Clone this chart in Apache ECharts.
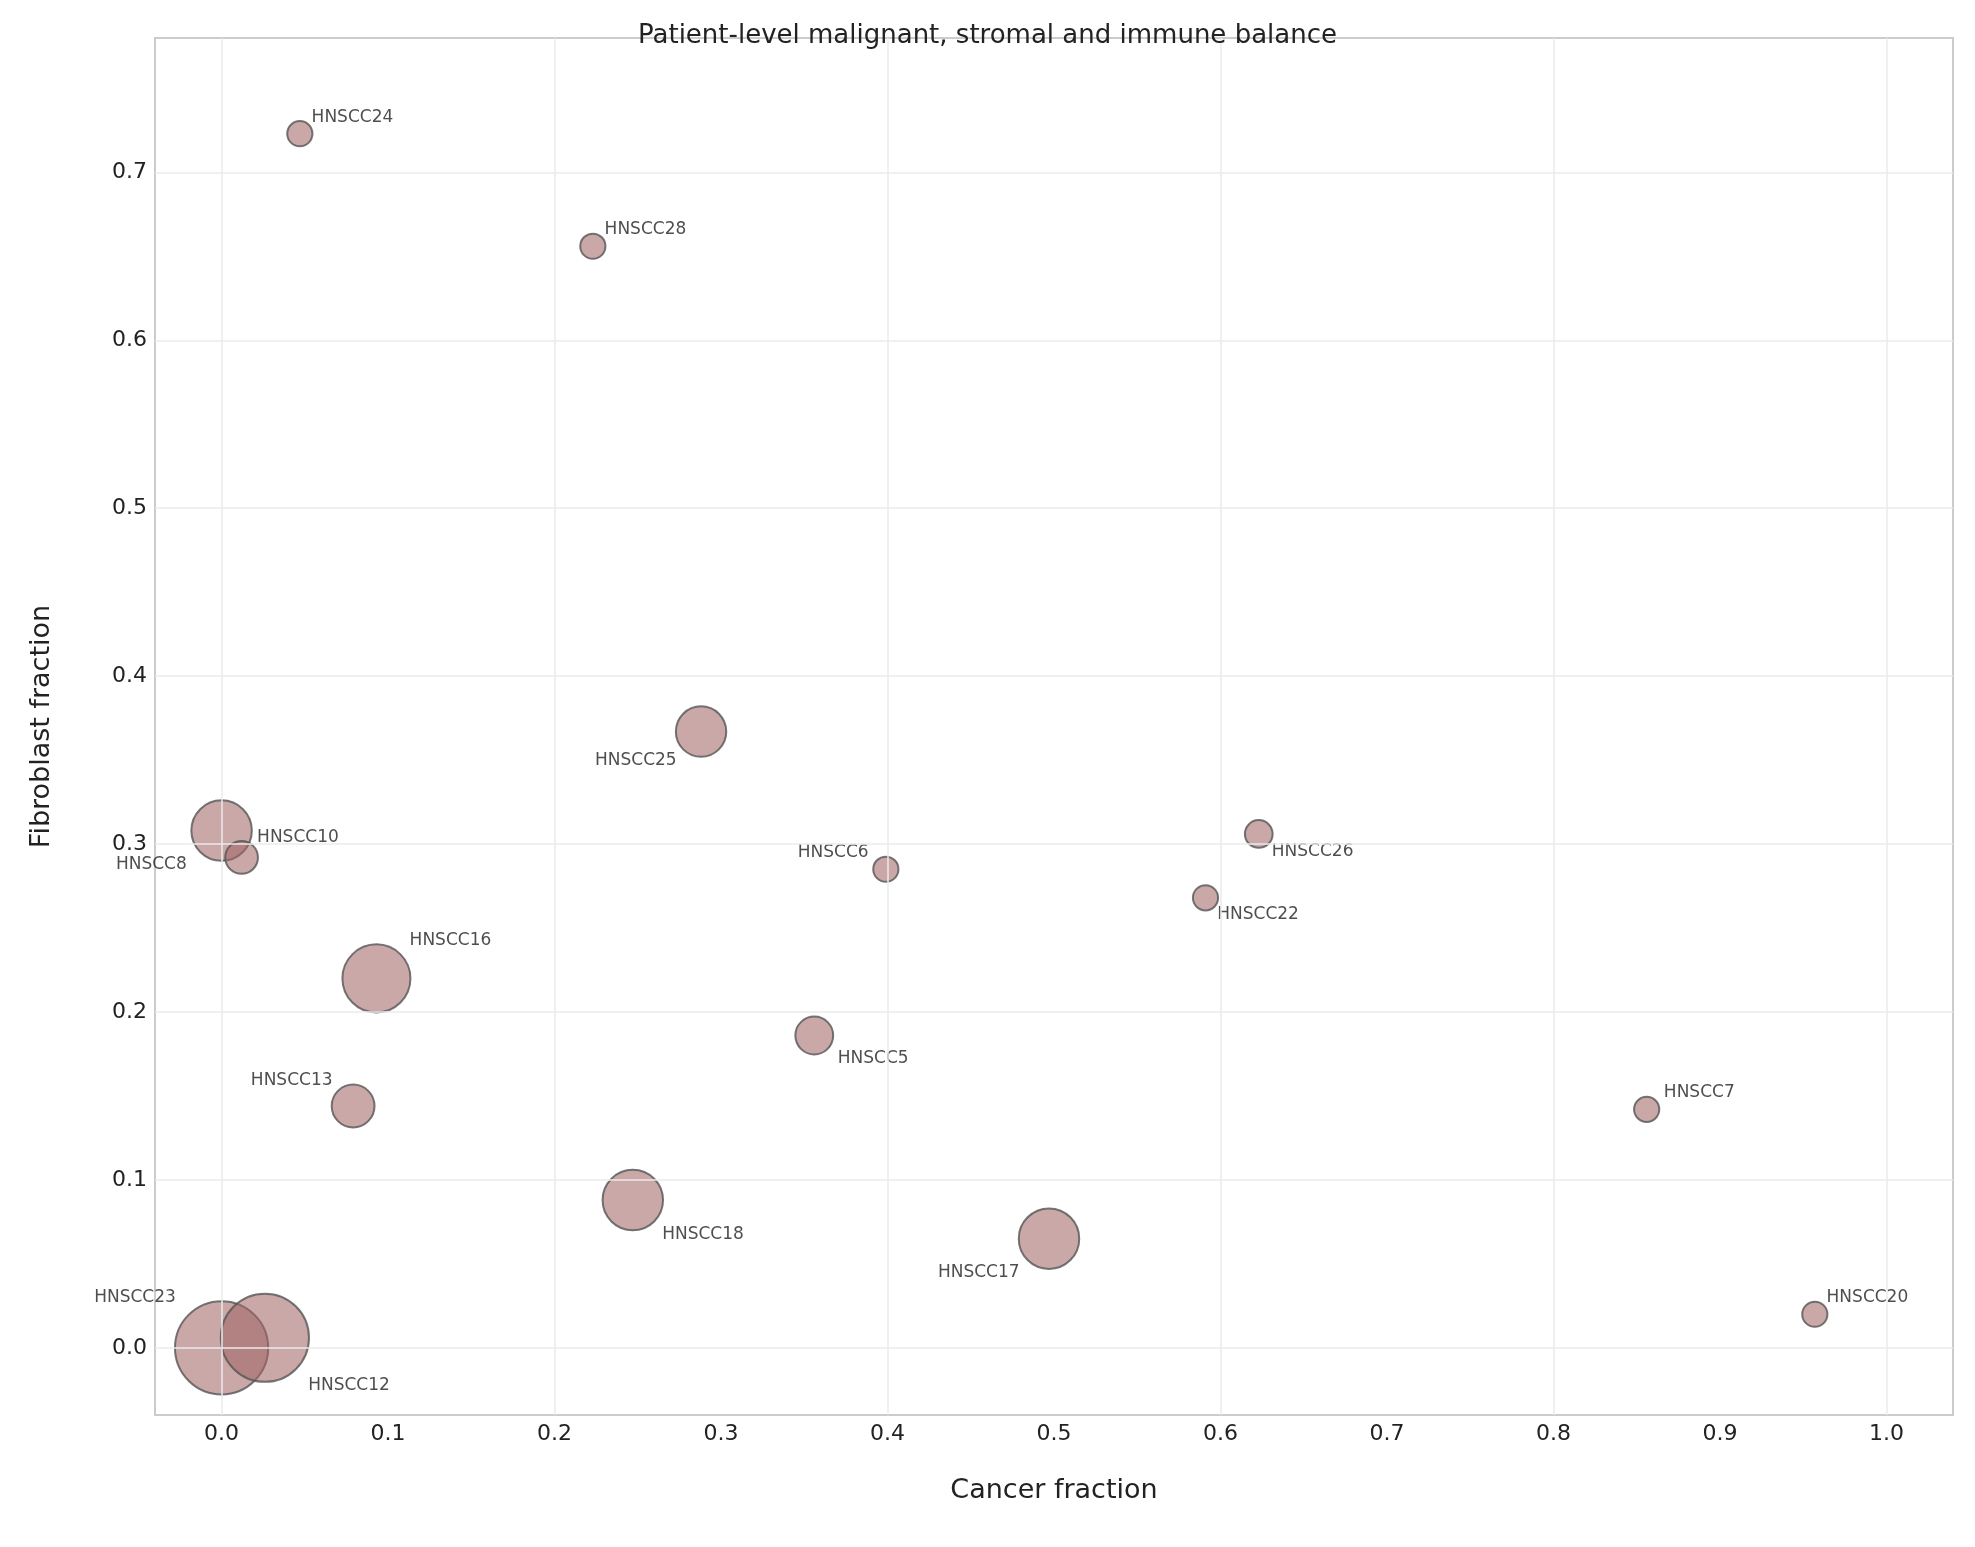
<!DOCTYPE html><html><head><meta charset="utf-8"><script src="https://cdn.jsdelivr.net/npm/echarts@6/dist/echarts.min.js"></script></head><body style="margin:0"><div id="c" style="width:1975px;height:1547px"></div><script>
const names=['HNSCC24','HNSCC28','HNSCC25','HNSCC8','HNSCC10','HNSCC6','HNSCC26','HNSCC22','HNSCC16','HNSCC5','HNSCC13','HNSCC7','HNSCC18','HNSCC17','HNSCC20','HNSCC23','HNSCC12'];
const cancer=[0.047,0.223,0.288,0.0,0.012,0.399,0.623,0.591,0.093,0.356,0.079,0.856,0.247,0.497,0.957,0.0,0.026];
const fibro=[0.723,0.656,0.367,0.308,0.292,0.285,0.306,0.268,0.220,0.186,0.144,0.142,0.088,0.065,0.020,0.0,0.006];
const bubble=[10,10,20,24,13,10,11,10,27,15,17,10,24,24,10,37,35];
const labelSide=['tr','tr','bl','bl','tr','tl','br','br','tr','br','tl','tr','br','bl','tr','tl','br'];
const xTicks=[0,0.2,0.4,0.6,0.8,1.0];
const yTicks=[0,0.1,0.2,0.3,0.4,0.5,0.6,0.7];
const S=1.26;
const F='DejaVu Sans';
const data=names.map((n,i)=>{const r=bubble[i]*S,s=labelSide[i];
 const dx=(s[1]==='r'?1:-1)*(r+2), dy=(s[0]==='t'?-1:1)*(r+4);
 return {value:[cancer[i],fibro[i]],symbolSize:2*r,label:{show:true,formatter:n,position:'inside',offset:[dx+(s[1]==='r'?1:-1)*38,dy],fontSize:17,fontFamily:F,color:'#222',textBorderWidth:0}};});
const fmt=v=>{const r=Math.round(v*10)/10;return Math.abs(v-r)<1e-6?r.toFixed(1):''};
const ax={axisLine:{show:false},axisTick:{show:false},splitLine:{show:false},nameLocation:'middle',nameTextStyle:{fontSize:27,color:'#222',fontFamily:F},axisLabel:{fontSize:22,color:'#222',fontFamily:F,formatter:fmt}};
const ch=echarts.init(document.getElementById('c'));
ch.setOption({animation:false,
title:{text:'Patient-level malignant, stromal and immune balance',left:'center',top:18,textStyle:{fontSize:26,fontWeight:'normal',color:'#222',fontFamily:F}},
grid:{left:155,right:22,top:38,bottom:132,show:true,borderColor:'#ccc',borderWidth:2},
xAxis:Object.assign({type:'value',min:-0.04,max:1.04,interval:0.02,name:'Cancer fraction',nameGap:62},ax),
yAxis:Object.assign({type:'value',min:-0.04,max:0.78,interval:0.01,name:'Fibroblast fraction',nameGap:100},ax),
series:[
 {type:'scatter',data:[],z:1,markLine:{silent:true,symbol:'none',label:{show:false},lineStyle:{color:'#ebebeb',width:1.5,type:'solid'},
  data:xTicks.map(v=>({xAxis:v})).concat(yTicks.map(v=>({yAxis:v})))}},
 {type:'scatter',z:3,data:data,itemStyle:{color:'rgba(160,100,100,0.7)',borderColor:'#555',borderWidth:2}}]});
</script></body></html>
